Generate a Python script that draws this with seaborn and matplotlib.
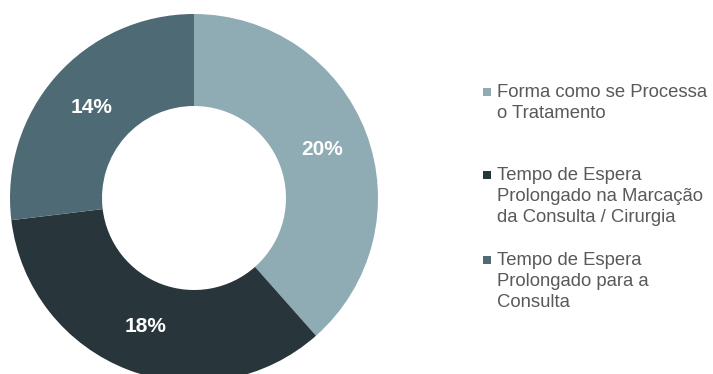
import matplotlib
matplotlib.use("Agg")
import matplotlib.pyplot as plt
from matplotlib.patches import Rectangle
import seaborn as sns

# ---- data ----
categories = [
    "Forma como se Processa\no Tratamento",
    "Tempo de Espera\nProlongado na Marcação\nda Consulta / Cirurgia",
    "Tempo de Espera\nProlongado para a\nConsulta",
]
values = [20, 18, 14]
colors = ["#8FABB4", "#28363C", "#4E6A74"]

sns.set_theme(style="white")
plt.rcParams["font.family"] = ["Liberation Sans", "DejaVu Sans"]

W, H = 713, 374
fig = plt.figure(figsize=(W / 100, H / 100), dpi=100)

# pie axes: center (194,198) px, radius 184 px
cx, cy, r = 194, 198, 184
ax = fig.add_axes([(cx - r) / W, (H - (cy + r)) / H, 2 * r / W, 2 * r / H])
total = sum(values)
wedges, texts, autotexts = ax.pie(
    values,
    colors=colors,
    startangle=90,
    counterclock=False,
    radius=1,
    wedgeprops=dict(width=0.5, linewidth=0),
    autopct=lambda p: f"{p * total / 100:.0f}%",
    pctdistance=0.745,
    textprops=dict(color="white", fontsize=15, fontweight="bold"),
)
ax.set_xlim(-1, 1)
ax.set_ylim(-1, 1)
ax.set_aspect("auto")
ax.axis("off")

# legend (manual placement)
first_baselines = [97, 180, 265]
pitch = 21
text_x = 497
for label, col, base in zip(categories, colors, first_baselines):
    fig.add_artist(Rectangle((483 / W, (H - base + 1) / H), 8 / W, 8 / H,
                             transform=fig.transFigure, facecolor=col,
                             edgecolor="none"))
    for i, line in enumerate(label.split("\n")):
        fig.text(text_x / W, (H - (base + i * pitch)) / H, line,
                 fontsize=13.3, color="#595959", ha="left", va="baseline")

fig.savefig("out.png", dpi=100, facecolor="white")
